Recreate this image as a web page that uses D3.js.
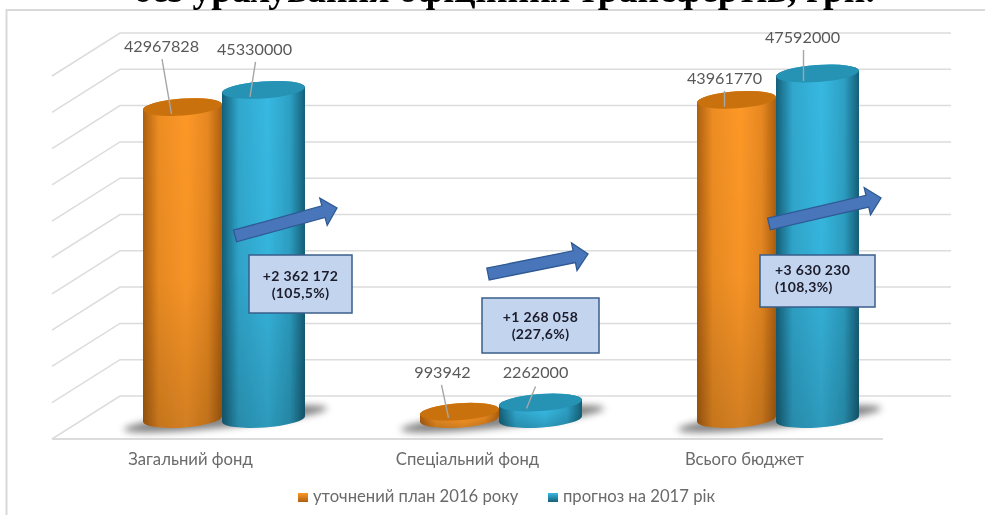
<!DOCTYPE html>
<html><head><meta charset="utf-8">
<script src="https://cdn.jsdelivr.net/npm/d3@7/dist/d3.min.js"></script>
<style>html,body{margin:0;padding:0;background:#fff}svg{display:block}</style>
</head><body><svg id="c" width="985" height="515"></svg>
<script>
const categories=["Загальний фонд","Спеціальний фонд","Всього бюджет"];
const seriesNames=["уточнений план 2016 року","прогноз на 2017 рік"];
const plan2016=[42967828,993942,43961770];
const forecast2017=[45330000,2262000,47592000];
const gridTicks=[0,5e6,1e7,1.5e7,2e7,2.5e7,3e7,3.5e7,4e7,4.5e7,5e7];
const changeLines=[["+2 362 172","(105,5%)"],["+1 268 058","(227,6%)"],["+3 630 230","(108,3%)"]];
const title="без урахування офіційних трансфертів, грн.";

const svg=d3.select("#c"),defs=svg.append("defs");
const x0=d3.scaleBand().domain(categories).range([52,883]);
const y=d3.scaleLinear().domain([0,5e7]).range([396,33]);
const depthX=68,depthY=43,midX=34,midY=23;
const RY=8.5,W=[79,83],TILT=-4,DL=3;
const colors=[{edge:"#ad5f0e",mid:"#fd9828",top:"#c9720f",label:"o"},{edge:"#155f78",mid:"#37b9e2",top:"#2592b4",label:"b"}];
colors.forEach(c=>{
 const g=defs.append("linearGradient").attr("id","side"+c.label);
 [[0,c.edge],[.2,d3.interpolateRgb(c.edge,c.mid)(.8)],[.55,c.mid],[.82,d3.interpolateRgb(c.edge,c.mid)(.72)],[1,c.edge]].forEach(s=>g.append("stop").attr("offset",s[0]).attr("stop-color",s[1]));
 const k=defs.append("linearGradient").attr("id","key"+c.label).attr("x1",0).attr("x2",0).attr("y1",0).attr("y2",1);
 k.append("stop").attr("offset",0).attr("stop-color",c.mid);
 k.append("stop").attr("offset",1).attr("stop-color",c.edge);
});
const sh=defs.append("linearGradient").attr("id","fade").attr("x1",0).attr("x2",0).attr("y1",0).attr("y2",1);
[[0,"#000",0],[.55,"#000",.03],[1,"#000",.17]].forEach(s=>sh.append("stop").attr("offset",s[0]).attr("stop-color",s[1]).attr("stop-opacity",s[2]));
defs.append("filter").attr("id","blur").attr("x","-30%").attr("y","-150%").attr("width","160%").attr("height","400%").append("feGaussianBlur").attr("stdDeviation",3.5);
defs.append("filter").attr("id","soft").attr("x",0).attr("y",0).attr("width",1).attr("height",1).append("feGaussianBlur").attr("stdDeviation",.4);

const root=svg.append("g").attr("filter","url(#soft)");
root.append("rect").attr("width",985).attr("height",515).attr("fill","#fff");
root.append("path").attr("d","M6.5,515V10H985").attr("fill","none").attr("stroke","#d9d9d9").attr("stroke-width",2);
root.append("text").attr("x",504).attr("y",2).attr("text-anchor","middle").attr("font-family","Liberation Serif").attr("font-weight","bold").attr("font-size",37.5).attr("fill","#000").text(title);

const grid=root.append("g").attr("fill","none").attr("stroke","#dcdcdc").attr("stroke-width",1.5);
gridTicks.forEach(t=>{
 const yy=y(t);
 grid.append("path").attr("d",`M52,${yy+depthY}L${52+depthX},${yy}H${883+depthX}`);
});
grid.append("path").attr("d",`M52,${y(0)+depthY}H883`).attr("stroke-width",2);

const data=[plan2016,forecast2017];
const cylLeft=ci=>x0(categories[ci])+x0.bandwidth()/2+midX-81.5;
const bars=root.append("g");
categories.forEach(c=>{
 const cx=x0(c)+x0.bandwidth()/2+midX, base=y(0)+midY;
 bars.append("ellipse").attr("cx",cx+1).attr("cy",base).attr("rx",W[0]+23).attr("ry",RY).attr("transform",`rotate(${TILT-2} ${cx} ${base})`).attr("fill","#555").attr("opacity",.72).attr("filter","url(#blur)");
});
const tops=[[],[]];
[0,1].forEach(si=>{
 categories.forEach((c,ci)=>{
  const v=data[si][ci],col=colors[si],l=cylLeft(ci)+(si?W[0]:0),w=W[si],r=l+w,rx=w/2,base=y(0)+midY,top=y(v)+midY;
  tops[si][ci]={cx:l+rx,top};
  const p=`M${l},${top+DL}V${base+DL}A${rx},${RY} ${TILT} 0 0 ${r},${base-DL}V${top-DL}A${rx},${RY} ${TILT} 0 0 ${l},${top+DL}Z`;
  bars.append("path").attr("d",p).attr("fill",`url(#side${col.label})`);
  bars.append("path").attr("d",p).attr("fill","url(#fade)");
  bars.append("ellipse").attr("cx",l+rx).attr("cy",top).attr("rx",rx).attr("ry",RY).attr("transform",`rotate(${TILT} ${l+rx} ${top})`).attr("fill",col.top);
 });
});

const labelNudge=[[[-21,-55],[-9,-35]],[[-17,-34],[-5,-25]],[[-12,-16],[-15,-30]]];
const leaderNudge=[[[-11,7,-20.5,-48],[-13.5,7,-8,-28]],[[-11,6,-18,-27],[-14,6,-5,-16]],[[-12,7,-12,-9],[-14,7.5,-14,-23.5]]];
[0,1].forEach(si=>categories.forEach((c,ci)=>{
 const {cx,top}=tops[si][ci],o=labelNudge[ci][si],m=leaderNudge[ci][si];
 root.append("line").attr("x1",cx+m[0]).attr("y1",top+m[1]).attr("x2",cx+m[2]).attr("y2",top+m[3]).attr("stroke","#a6a6a6").attr("stroke-width",1.4);
 root.append("text").attr("x",cx+o[0]).attr("y",top+o[1]).attr("text-anchor","middle").attr("font-family","Lato").attr("font-size",16.2).attr("fill","#595959").text(data[si][ci]);
}));

const arrowGeom=[{x1:235,y1:236,x2:337,y2:208},{x1:488,y1:274,x2:588,y2:254},{x1:769,y1:224,x2:881,y2:198}];
arrowGeom.forEach(a=>{
 const ang=Math.atan2(a.y2-a.y1,a.x2-a.x1),len=Math.hypot(a.x2-a.x1,a.y2-a.y1);
 root.append("path").attr("transform",`translate(${a.x1},${a.y1}) rotate(${ang*180/Math.PI})`)
  .attr("d",`M0,-6H${len-14}V-14L${len},0L${len-14},14V6H0Z`).attr("fill","#4876ba").attr("stroke","#2f5a94").attr("stroke-width",1.3);
});

const boxes=[{x:249,y:255,w:103,h:58,anchor:"middle",dy:26},{x:482,y:298,w:117,h:55,anchor:"middle",dy:24},{x:760,y:255,w:115,h:52,anchor:"start",dy:20}];
boxes.forEach((b,i)=>{
 root.append("rect").attr("x",b.x).attr("y",b.y).attr("width",b.w).attr("height",b.h).attr("fill","#c3d5ee").attr("stroke","#385d8a").attr("stroke-width",1.5);
 const tx=b.anchor==="middle"?b.x+b.w/2:b.x+15;
 changeLines[i].forEach((s,k)=>root.append("text").attr("text-anchor",b.anchor).attr("font-family","Lato").attr("font-weight","bold").attr("font-size",14).attr("letter-spacing",.35).attr("fill","#1a1a2a").attr("x",tx).attr("y",b.y+b.dy+k*17).text(s));
});

categories.forEach(c=>root.append("text").attr("x",x0(c)+x0.bandwidth()/2).attr("y",465).attr("text-anchor","middle").attr("font-family","Lato").attr("font-size",16.7).attr("fill","#6a6a6a").text(c));

const legend=root.append("g").attr("font-family","Lato").attr("font-size",16.65).attr("fill","#6a6a6a");
[[298,313],[548,563]].forEach((p,i)=>{
 legend.append("rect").attr("x",p[0]).attr("y",493).attr("width",10).attr("height",9).attr("fill",`url(#key${colors[i].label})`);
 legend.append("text").attr("x",p[1]).attr("y",502).text(seriesNames[i]);
});
</script></body></html>
